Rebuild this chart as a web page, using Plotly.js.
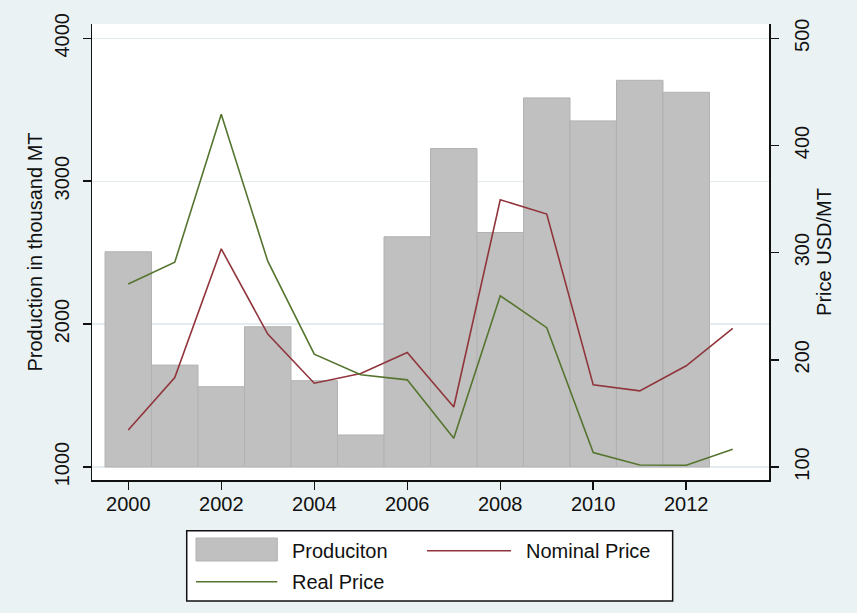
<!DOCTYPE html>
<html>
<head>
<meta charset="utf-8">
<script src="https://cdn.plot.ly/plotly-3.0.1.min.js"></script>
<style>
  html, body { margin: 0; padding: 0; background: #ffffff; }
  #chart { width: 857px; height: 613px; }
</style>
</head>
<body>
<div id="chart"></div>
<script>
// ---- data ----
const barYears = [2000, 2001, 2002, 2003, 2004, 2005, 2006, 2007, 2008, 2009, 2010, 2011, 2012];
const production = [2506, 1713, 1562, 1981, 1604, 1224, 2611, 3229, 2641, 3583, 3422, 3706, 3622];

const priceYears = [2000, 2001, 2002, 2003, 2004, 2005, 2006, 2007, 2008, 2009, 2010, 2011, 2012, 2013];
const nominalPrice = [134.6, 183.5, 303.5, 224, 178.2, 187.2, 206.8, 156, 349.3, 336, 176.6, 171, 194.4, 229.3];
const realPrice = [270.7, 291, 429, 292, 205.3, 186, 181.3, 126.8, 259.8, 230, 113.4, 101.9, 101.6, 116.5];

const xTicks = [2000, 2002, 2004, 2006, 2008, 2010, 2012];
const yTicks = [1000, 2000, 3000, 4000];
const y2Ticks = [100, 200, 300, 400, 500];

const seriesNames = ['Produciton', 'Nominal Price', 'Real Price'];
const yTitle = 'Production in thousand MT';
const y2Title = 'Price USD/MT';
const BAR_BASE = 1000;

// ---- styles ----
const FONT = '"Liberation Sans", Arial, sans-serif';
const TXT = '#111111';
const BAR_FILL = '#c0c0c0';
const BAR_LINE = '#b2b2b2';
const MAROON = '#90353b';
const GREEN = '#55752f';

const traces = [
  {
    type: 'bar', name: seriesNames[0],
    x: barYears,
    y: production.map(v => v - BAR_BASE),
    base: BAR_BASE,
    width: 1,
    marker: { color: BAR_FILL, line: { color: BAR_LINE, width: 1 } },
    yaxis: 'y', showlegend: false
  },
  {
    type: 'scatter', mode: 'lines', name: seriesNames[1],
    x: priceYears, y: nominalPrice,
    line: { color: MAROON, width: 1.6 },
    yaxis: 'y2', showlegend: false
  },
  {
    type: 'scatter', mode: 'lines', name: seriesNames[2],
    x: priceYears, y: realPrice,
    line: { color: GREEN, width: 1.6 },
    yaxis: 'y2', showlegend: false
  }
];

// legend (drawn in paper coordinates below the plot)
const legBox = { x0: 0.1399, x1: 0.8577, y0: -0.2654, y1: -0.1112 };
const shapes = [
  { type: 'rect', xref: 'paper', yref: 'paper', x0: legBox.x0, x1: legBox.x1, y0: legBox.y0, y1: legBox.y1,
    fillcolor: 'white', line: { color: '#111111', width: 1.5 } },
  { type: 'rect', xref: 'paper', yref: 'paper', x0: 0.1536, x1: 0.2737, y0: -0.1776, y1: -0.1272,
    fillcolor: BAR_FILL, line: { color: BAR_LINE, width: 1 } },
  { type: 'line', xref: 'paper', yref: 'paper', x0: 0.4948, x1: 0.6189, y0: -0.155, y1: -0.155,
    line: { color: MAROON, width: 1.6 } },
  { type: 'line', xref: 'paper', yref: 'paper', x0: 0.1536, x1: 0.2737, y0: -0.223, y1: -0.223,
    line: { color: GREEN, width: 1.6 } }
];
const annotations = [
  { xref: 'paper', yref: 'paper', x: 0.2925, y: -0.155, text: seriesNames[0] },
  { xref: 'paper', yref: 'paper', x: 0.6381, y: -0.155, text: seriesNames[1] },
  { xref: 'paper', yref: 'paper', x: 0.2925, y: -0.2237, text: seriesNames[2] }
].map(a => Object.assign(a, { showarrow: false, xanchor: 'left', yanchor: 'middle',
  font: { family: FONT, size: 20, color: TXT } }));

const axisCommon = {
  ticks: 'outside', ticklen: 8, tickwidth: 1.5, tickcolor: '#111111',
  showline: true, linecolor: '#111111', linewidth: 1.5,
  zeroline: false,
  tickfont: { family: FONT, size: 20, color: TXT }
};

const layout = {
  width: 857, height: 613,
  margin: { l: 92, r: 88, t: 24, b: 133, pad: 0 },
  paper_bgcolor: '#eaf2f3',
  plot_bgcolor: '#ffffff',
  font: { family: FONT, color: TXT },
  bargap: 0,
  showlegend: false,
  xaxis: Object.assign({}, axisCommon, {
    range: [1999.22, 2013.78],
    tickmode: 'array', tickvals: xTicks, ticktext: xTicks.map(String),
    showgrid: false,
    ticklabelstandoff: -3
  }),
  yaxis: Object.assign({}, axisCommon, {
    range: [909, 4100],
    tickmode: 'array', tickvals: yTicks, ticktext: yTicks.map(String),
    tickangle: -90,
    showgrid: true, gridcolor: '#e3ecef', gridwidth: 1.2,
    ticklabelstandoff: 6,
    title: { text: yTitle, font: { family: FONT, size: 20, color: TXT }, standoff: 2 }
  }),
  yaxis2: Object.assign({}, axisCommon, {
    overlaying: 'y', side: 'right',
    range: [87.87, 513.3],
    tickmode: 'array', tickvals: y2Ticks, ticktext: y2Ticks.map(String),
    tickangle: -90,
    showgrid: false,
    ticklabelstandoff: 6,
    title: { text: y2Title, font: { family: FONT, size: 20, color: TXT }, standoff: 0 }
  }),
  shapes: shapes,
  annotations: annotations
};

Plotly.newPlot('chart', traces, layout, { displayModeBar: false, staticPlot: true });
</script>
</body>
</html>
